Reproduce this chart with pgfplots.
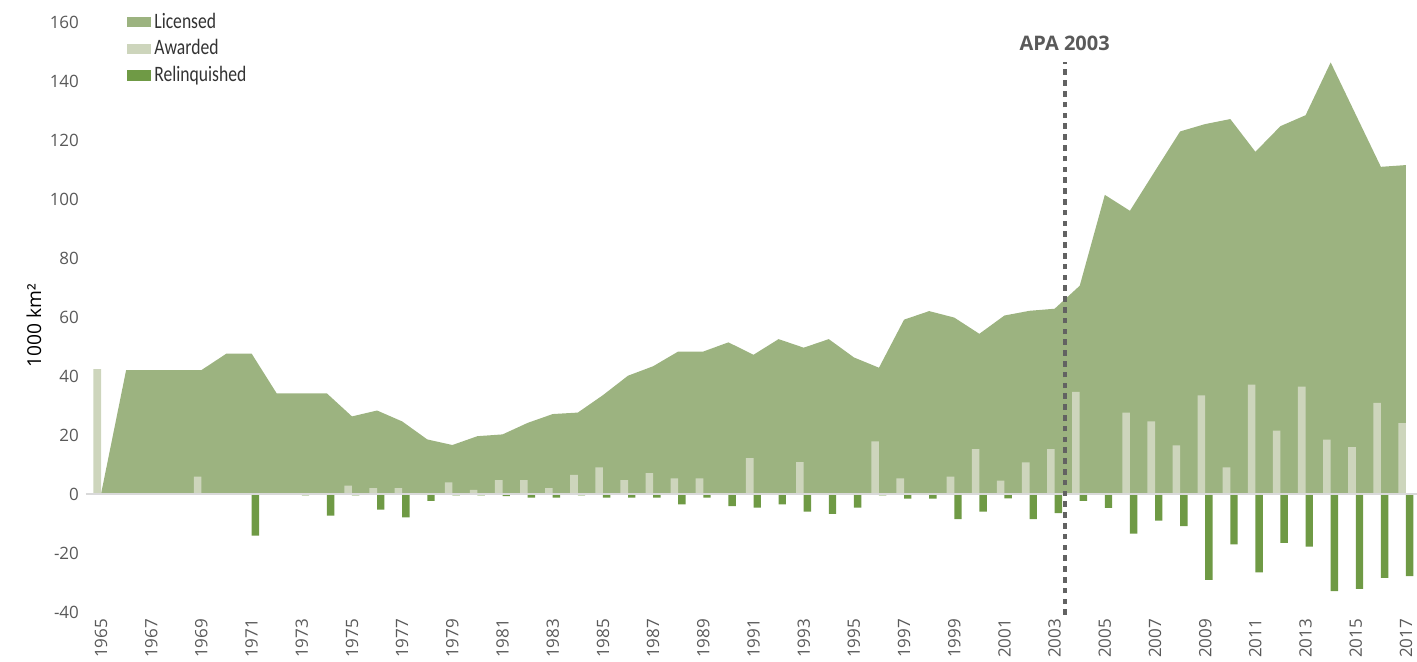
\documentclass[border=0pt]{standalone}
\usepackage{pgfplots}
\usepackage{pgfplotstable}
\pgfplotsset{compat=1.18}
\usepackage{fontspec}
\setmainfont{Open Sans}
\newfontfamily\legfont[FakeStretch=0.8]{Carlito}
\definecolor{lic}{HTML}{9CB380}
\definecolor{awd}{HTML}{CDD5BC}
\definecolor{rel}{HTML}{6F9A45}
\definecolor{tickgray}{HTML}{595959}
\definecolor{dashgray}{HTML}{626262}
\definecolor{zerogray}{HTML}{D9D9D9}
\pgfplotsset{sq legend/.style={legend image code/.code={\fill[##1] (0pt,-2.6pt) rectangle (12pt,2.6pt);}}}

\pgfplotstableread{
year lic awd rel
1965 0 42.3 0
1966 42 0 0
1967 42 0 0
1968 42 0 0
1969 42 5.9 0
1970 47.6 0 0
1971 47.6 0 -14.1
1972 34.1 0 0
1973 34.1 0 -0.5
1974 34.1 0 -7.3
1975 26.3 2.8 -0.5
1976 28.3 2.0 -5.3
1977 24.6 2.0 -7.9
1978 18.5 0 -2.3
1979 16.6 3.9 -0.5
1980 19.6 1.4 -0.5
1981 20.2 4.7 -0.7
1982 24.1 4.7 -1.2
1983 27.1 2.0 -1.2
1984 27.6 6.5 -0.5
1985 33.5 9.0 -1.2
1986 40.1 4.7 -1.2
1987 43.3 7.1 -1.2
1988 48.3 5.3 -3.5
1989 48.3 5.3 -1.2
1990 51.4 0 -4.1
1991 47.2 12.2 -4.6
1992 52.5 0 -3.5
1993 49.6 10.8 -6.0
1994 52.5 0 -6.7
1995 46.3 0 -4.6
1996 42.8 17.8 -0.5
1997 59.1 5.3 -1.6
1998 62.0 0 -1.6
1999 59.8 5.9 -8.5
2000 54.3 15.2 -6.0
2001 60.5 4.5 -1.5
2002 62.1 10.7 -8.5
2003 62.8 15.2 -6.5
2004 70.6 34.6 -2.3
2005 101.4 0 -4.7
2006 96.0 27.6 -13.4
2007 109.5 24.6 -9.0
2008 122.9 16.5 -10.9
2009 125.4 33.4 -29.1
2010 127.1 9.0 -17.1
2011 116.0 37.1 -26.6
2012 124.7 21.5 -16.6
2013 128.4 36.4 -17.8
2014 146.3 18.4 -32.9
2015 128.6 15.9 -32.2
2016 110.9 30.9 -28.4
2017 111.5 24.0 -27.8
}\data

\begin{document}
\begin{tikzpicture}
\useasboundingbox (-46pt,-25pt) rectangle (662.5pt,306pt);
\begin{axis}[
  width=662.5pt, height=295pt, scale only axis,
  xmin=1964.64, xmax=2017.44, ymin=-40, ymax=160,
  clip=false,
  axis line style={draw=none},
  tick style={draw=none},
  /pgf/number format/assume math mode=true,
  xtick={1965,1967,...,2017},
  ytick={-40,-20,...,160},
  xticklabel style={rotate=90, anchor=east, color=tickgray, font=\fontsize{8.5}{9}\selectfont, /pgf/number format/1000 sep={}, yshift=0pt},
  yticklabel style={color=tickgray, font=\fontsize{8.5}{10}\selectfont, xshift=-3pt},
  ylabel={1000 km²},
  every axis y label/.style={at={(axis description cs:0,0.486)}, xshift=-29pt, rotate=90, anchor=center, font=\fontsize{9.6}{11}\selectfont, color=black},
  legend style={at={(rel axis cs:0.0264,1.021)}, anchor=north west, draw=none, fill=none, inner sep=0pt, row sep=1.2pt,
    font=\legfont\fontsize{11}{12}\selectfont, text=black!80, nodes={inner sep=1.5pt, xshift=1.5pt}},
  legend cell align=left,
]
\addplot[fill=lic, draw=none, sq legend] table[x=year,y=lic]{\data} \closedcycle;
\addlegendentry{Licensed}
\addplot[ybar, bar width=3.8pt, bar shift=-1.9pt, fill=awd, draw=none, sq legend] table[x=year,y=awd]{\data};
\addlegendentry{Awarded}
\addplot[ybar, bar width=3.7pt, bar shift=1.85pt, fill=rel, draw=none, sq legend] table[x=year,y=rel]{\data};
\addlegendentry{Relinquished}
\draw[zerogray, line width=1pt] (axis cs:1964.4,0) -- (axis cs:2017.44,0);
\draw[dashgray, line width=2pt, dash pattern=on 2.8pt off 2.6pt] (axis cs:2003.4,-41) -- (axis cs:2003.4,146.5);
\node[font=\bfseries\fontsize{10}{12}\selectfont, color=tickgray] at (axis cs:2003.4,152.8) {APA 2003};
\end{axis}
\end{tikzpicture}
\end{document}
